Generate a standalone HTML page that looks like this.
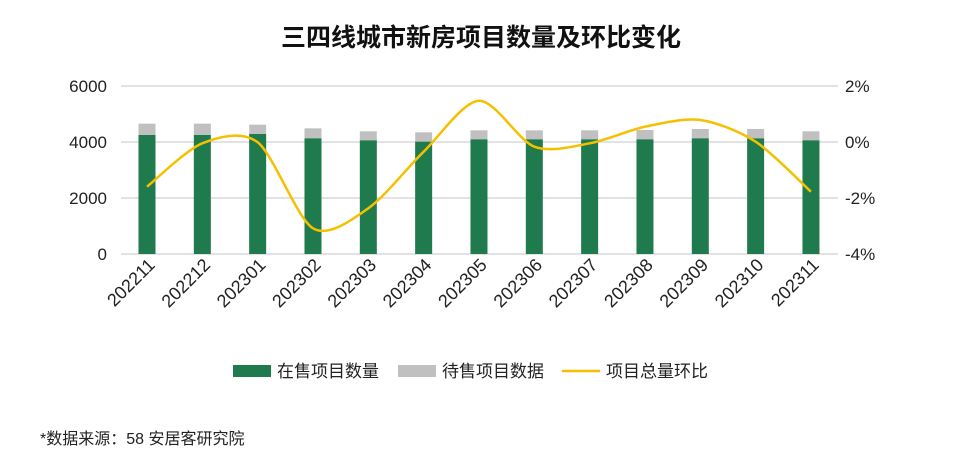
<!DOCTYPE html>
<html><head><meta charset="utf-8"><style>
html,body{margin:0;padding:0;background:#fff;}
svg{display:block;font-family:"Liberation Sans","Noto Sans CJK SC",sans-serif;}
</style></head><body>
<svg id="svg" width="960" height="460" viewBox="0 0 960 460" xmlns="http://www.w3.org/2000/svg">
<text x="481" y="46" text-anchor="middle" font-size="25" font-weight="bold" fill="#111" font-family="'Noto Sans CJK SC',sans-serif">三四线城市新房项目数量及环比变化</text>
<g stroke="#d9d9d9" stroke-width="1.5">
<line x1="121" y1="86" x2="838" y2="86"/><line x1="121" y1="142" x2="838" y2="142"/>
<line x1="121" y1="198" x2="838" y2="198"/><line x1="121" y1="254" x2="838" y2="254"/>
</g>
<g font-size="17" fill="#222" text-anchor="end">
<text x="107" y="92">6000</text><text x="107" y="148">4000</text><text x="107" y="204">2000</text><text x="107" y="260">0</text>
</g>
<g font-size="17" fill="#222" text-anchor="start">
<text x="845" y="92">2%</text><text x="845" y="148">0%</text><text x="845" y="204">-2%</text><text x="845" y="260">-4%</text>
</g>
<g id="bars"></g>
<g id="labels" font-size="18" fill="#222" text-anchor="end"></g>
<path id="line" fill="none" stroke="#f5c000" stroke-width="2.5"/>
<rect x="233" y="365" width="38" height="12" fill="#1f7a4d"/>
<text x="277" y="377" font-size="17" fill="#222">在售项目数量</text>
<rect x="398" y="365" width="38" height="12" fill="#c0c0c0"/>
<text x="442" y="377" font-size="17" fill="#222">待售项目数据</text>
<line x1="562" y1="371" x2="600" y2="371" stroke="#f5c000" stroke-width="2.5"/>
<text x="606" y="377" font-size="17" fill="#222">项目总量环比</text>
<text x="40" y="444" font-size="16" fill="#222">*数据来源：58 安居客研究院</text>
</svg>
<script>
var NS="http://www.w3.org/2000/svg";
function el(t,a,p,txt){var e=document.createElementNS(NS,t);for(var k in a)e.setAttribute(k,a[k]);if(txt)e.textContent=txt;p.appendChild(e);return e;}
var g=[165,165,162,175,181,185,178,178,178,178,175,175,181],gr=[131,131,134,145,154,157,151,151,151,150,147,147,154];
var labs=["202211","202212","202301","202302","202303","202304","202305","202306","202307","202308","202309","202310","202311"];
var ly=[186.7,143.3,142.3,228.3,208.3,151.7,100.7,146.7,143.3,126.7,120,141.7,191.7];
var B=document.getElementById("bars"),L=document.getElementById("labels"),pts=[];
for(var i=0;i<13;i++){var cx=147+55.33*i;var gt=80+g[i]/3,yt=80+gr[i]/3;
el("rect",{x:cx-8.5,y:yt,width:17,height:gt-yt,fill:"#c0c0c0"},B);
el("rect",{x:cx-8.5,y:gt,width:17,height:254-gt,fill:"#1f7a4d"},B);
el("text",{transform:"translate("+(cx+9)+",266) rotate(-45)"},L,labs[i]);
pts.push([cx,ly[i]]);}
var d="M"+pts[0][0]+","+pts[0][1],t=7;
for(var i=0;i<12;i++){var p0=pts[Math.max(i-1,0)],p1=pts[i],p2=pts[i+1],p3=pts[Math.min(i+2,12)];
var c1=[p1[0]+(p2[0]-p0[0])/t,p1[1]+(p2[1]-p0[1])/t],c2=[p2[0]-(p3[0]-p1[0])/t,p2[1]-(p3[1]-p1[1])/t];
d+=" C"+c1+" "+c2+" "+p2;}
document.getElementById("line").setAttribute("d",d);
</script>
</body></html>
